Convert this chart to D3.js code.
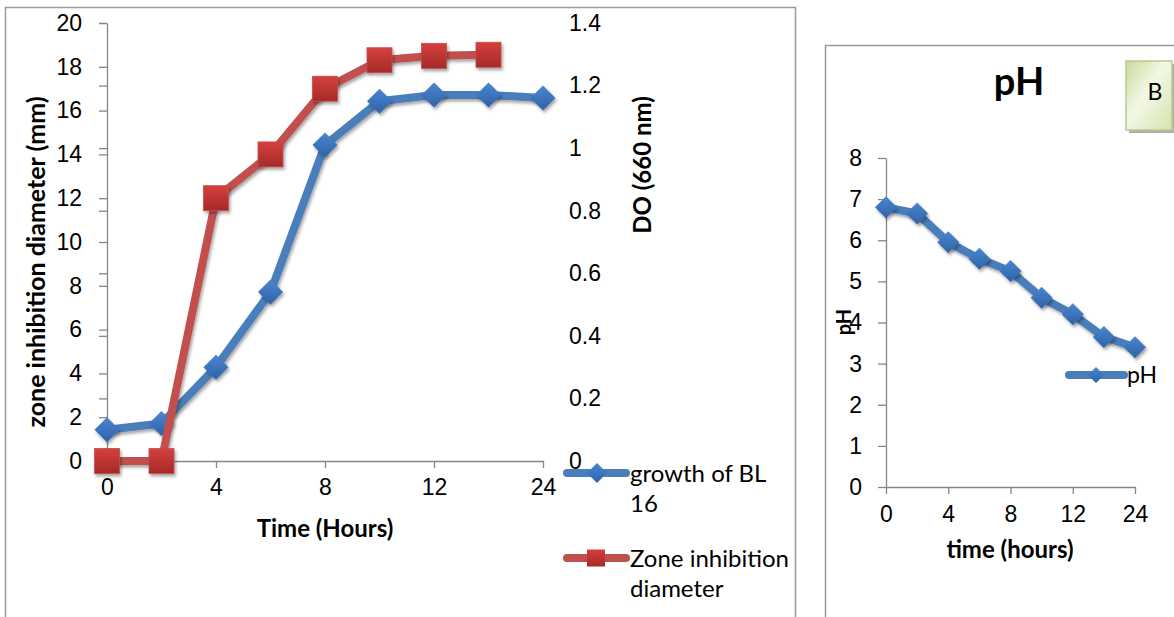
<!DOCTYPE html>
<html>
<head>
<meta charset="utf-8">
<script src="https://cdn.jsdelivr.net/npm/d3@7"></script>
<style>
  html, body { margin: 0; padding: 0; background: #fff; }
  svg { display: block; font-family: Lato, "Open Sans", sans-serif; }
  .axis path, .axis line { stroke: #868686; stroke-width: 1.3; }
  .axis text { font-size: 23px; fill: #000; }
</style>
</head>
<body>
<svg id="chart" width="1174" height="617"></svg>
<script>
// Sampling times (hours), one category per measurement
const categories = ["0", "2", "4", "6", "8", "10", "12", "18", "24"];
const timeLabels = ["0", "4", "8", "12", "24"];

// Panel A: bacterial growth (optical density) and inhibition zone
const growthDO = [0.10, 0.12, 0.30, 0.54, 1.01, 1.15, 1.17, 1.17, 1.16];
const zoneDiameter = [0, 0, 12, 14, 17, 18.3, 18.5, 18.55, null];
const zoneTicks = [0, 2, 4, 6, 8, 10, 12, 14, 16, 18, 20];
const doTicks = [0, 0.2, 0.4, 0.6, 0.8, 1, 1.2, 1.4];

// Panel B: pH of the culture
const pHValues = [6.8, 6.65, 5.95, 5.55, 5.25, 4.6, 4.2, 3.65, 3.4];
const pHTicks = [0, 1, 2, 3, 4, 5, 6, 7, 8];

const BLUE = "#4a7ebb", RED = "#c0504d";
const svg = d3.select("#chart");

// ---- shared defs: shadows and marker gradients ----
const defs = svg.append("defs");
const sh = defs.append("filter").attr("id", "shadow")
  .attr("x", "-30%").attr("y", "-30%").attr("width", "160%").attr("height", "160%");
sh.append("feDropShadow").attr("dx", 1.5).attr("dy", 2.5).attr("stdDeviation", 1.6)
  .attr("flood-color", "#000").attr("flood-opacity", 0.35);

function vGrad(id, top, bottom) {
  const g = defs.append("linearGradient").attr("id", id)
    .attr("x1", 0).attr("y1", 0).attr("x2", 0).attr("y2", 1);
  g.append("stop").attr("offset", "0%").attr("stop-color", top);
  g.append("stop").attr("offset", "100%").attr("stop-color", bottom);
}
vGrad("gRed", "#d5403d", "#a52a28");
vGrad("gBlue", "#4a86d0", "#2f62a8");
const gB = defs.append("linearGradient").attr("id", "gBox")
  .attr("x1", 0).attr("y1", 0).attr("x2", 1).attr("y2", 1);
gB.append("stop").attr("offset", "0%").attr("stop-color", "#c8da9a");
gB.append("stop").attr("offset", "45%").attr("stop-color", "#f3f8e6");
gB.append("stop").attr("offset", "100%").attr("stop-color", "#d4e3ae");

const diamond = s => `M0,${-s}L${s},0L0,${s}L${-s},0Z`;
const fmtDO = d => String(+d.toFixed(1));

// ---- panel frames ----
svg.append("rect").attr("x", 5.5).attr("y", 7.5).attr("width", 790).attr("height", 700)
  .attr("fill", "none").attr("stroke", "#9a9a9a").attr("stroke-width", 1.5);
svg.append("rect").attr("x", 825.5).attr("y", 45.5).attr("width", 400).attr("height", 700)
  .attr("fill", "none").attr("stroke", "#9a9a9a").attr("stroke-width", 1.5);

// =============== Panel A ===============
const xA = d3.scalePoint().domain(categories).range([107, 543]);
const yZone = d3.scaleLinear().domain([0, 20]).range([461, 23]);
const yDO = d3.scaleLinear().domain([0, 1.4]).range([461, 23]);

const gA = svg.append("g");

// left axis: zone diameter ticks plus the DO tick positions
gA.append("g").attr("class", "axis").attr("transform", "translate(107,0)")
  .call(d3.axisLeft(yDO).tickValues(doTicks).tickFormat("").tickSize(8).tickSizeOuter(0))
  .select(".domain").remove();
gA.append("g").attr("class", "axis").attr("transform", "translate(107,0)")
  .call(d3.axisLeft(yZone).tickValues(zoneTicks).tickSize(8).tickPadding(17).tickSizeOuter(0));

// right-hand DO labels (no axis line)
const axDO = gA.append("g").attr("class", "axis").attr("transform", "translate(569,0)")
  .call(d3.axisRight(yDO).tickValues(doTicks).tickFormat(fmtDO).tickSize(0).tickPadding(0));
axDO.select(".domain").remove();

// bottom axis
gA.append("g").attr("class", "axis").attr("transform", "translate(0,461)")
  .call(d3.axisBottom(xA).tickValues(timeLabels).tickSize(7).tickPadding(11).tickSizeOuter(0));

// axis titles
gA.append("text").attr("transform", "translate(45,262) rotate(-90)")
  .attr("text-anchor", "middle").attr("font-weight", "bold").attr("font-size", 25)
  .text("zone inhibition diameter (mm)");
gA.append("text").attr("transform", "translate(651,165) rotate(-90)")
  .attr("text-anchor", "middle").attr("font-weight", "bold").attr("font-size", 24)
  .text("DO (660 nm)");
gA.append("text").attr("x", 325).attr("y", 537)
  .attr("text-anchor", "middle").attr("font-weight", "bold").attr("font-size", 24)
  .text("Time (Hours)");

// growth series (secondary scale)
const growthPts = categories.map((c, i) => [xA(c), yDO(growthDO[i])]);
gA.append("path").attr("d", d3.line()(growthPts))
  .attr("fill", "none").attr("stroke", BLUE).attr("stroke-width", 8)
  .attr("stroke-linejoin", "round").attr("filter", "url(#shadow)");
gA.selectAll(".gm").data(growthPts).join("path")
  .attr("transform", d => `translate(${d[0]},${d[1]})`).attr("d", diamond(12.5))
  .attr("fill", "url(#gBlue)").attr("filter", "url(#shadow)");

// zone diameter series (primary scale)
const zonePts = categories.map((c, i) => zoneDiameter[i] == null ? null : [xA(c), yZone(zoneDiameter[i])])
  .filter(d => d);
gA.append("path").attr("d", d3.line()(zonePts))
  .attr("fill", "none").attr("stroke", RED).attr("stroke-width", 8)
  .attr("stroke-linejoin", "round").attr("filter", "url(#shadow)");
gA.selectAll(".zm").data(zonePts).join("rect")
  .attr("x", d => d[0] - 12.5).attr("y", d => d[1] - 12.5)
  .attr("width", 25).attr("height", 25)
  .attr("fill", "url(#gRed)").attr("stroke", "#c0504d").attr("stroke-width", 0.8)
  .attr("filter", "url(#shadow)");

// legend
const legA = gA.append("g");
legA.append("line").attr("x1", 567).attr("x2", 626).attr("y1", 473).attr("y2", 473)
  .attr("stroke", BLUE).attr("stroke-width", 8).attr("stroke-linecap", "round");
legA.append("path").attr("transform", "translate(597,473)").attr("d", diamond(10))
  .attr("fill", "url(#gBlue)");
legA.append("text").attr("x", 630).attr("y", 482).attr("font-size", 24).text("growth of BL");
legA.append("text").attr("x", 630).attr("y", 512).attr("font-size", 24).text("16");

legA.append("line").attr("x1", 567).attr("x2", 626).attr("y1", 558).attr("y2", 558)
  .attr("stroke", RED).attr("stroke-width", 8).attr("stroke-linecap", "round");
legA.append("rect").attr("x", 587).attr("y", 549.5).attr("width", 18).attr("height", 17)
  .attr("fill", "url(#gRed)");
legA.append("text").attr("x", 630).attr("y", 567).attr("font-size", 24).text("Zone inhibition");
legA.append("text").attr("x", 630).attr("y", 597).attr("font-size", 24).text("diameter");

// =============== Panel B ===============
const xB = d3.scalePoint().domain(categories).range([886, 1135]);
const yPH = d3.scaleLinear().domain([0, 8]).range([487, 158]);
const gBp = svg.append("g");

gBp.append("g").attr("class", "axis").attr("transform", "translate(886,0)")
  .call(d3.axisLeft(yPH).tickValues(pHTicks).tickSize(8).tickPadding(16).tickSizeOuter(0));
gBp.append("g").attr("class", "axis").attr("transform", "translate(0,487)")
  .call(d3.axisBottom(xB).tickValues(timeLabels).tickSize(7).tickPadding(12).tickSizeOuter(0));

gBp.append("text").attr("x", 1019).attr("y", 95).attr("text-anchor", "middle")
  .attr("font-weight", "bold").attr("font-size", 38).text("pH");
gBp.append("text").attr("x", 1010).attr("y", 558).attr("text-anchor", "middle")
  .attr("font-weight", "bold").attr("font-size", 24).text("time (hours)");
gBp.append("text").attr("transform", "translate(851,322) rotate(-90)")
  .attr("text-anchor", "middle").attr("font-weight", "bold").attr("font-size", 20).text("pH");

// "B" tag box
gBp.append("rect").attr("x", 1129).attr("y", 64).attr("width", 46).attr("height", 69).attr("fill", "#9a9a9a")
  .attr("opacity", 0.8);
gBp.append("rect").attr("x", 1126).attr("y", 61).attr("width", 46).attr("height", 69)
  .attr("fill", "url(#gBox)").attr("stroke", "#b7cb8a").attr("stroke-width", 1.5);
gBp.append("text").attr("x", 1155).attr("y", 100).attr("text-anchor", "middle")
  .attr("font-size", 23).text("B");

const pHPts = categories.map((c, i) => [xB(c), yPH(pHValues[i])]);
gBp.append("path").attr("d", d3.line()(pHPts))
  .attr("fill", "none").attr("stroke", BLUE).attr("stroke-width", 8)
  .attr("stroke-linejoin", "round").attr("filter", "url(#shadow)");
gBp.selectAll(".pm").data(pHPts).join("path")
  .attr("transform", d => `translate(${d[0]},${d[1]})`).attr("d", diamond(11))
  .attr("fill", "url(#gBlue)").attr("filter", "url(#shadow)");

const legB = gBp.append("g");
legB.append("line").attr("x1", 1069).attr("x2", 1124).attr("y1", 375).attr("y2", 375)
  .attr("stroke", BLUE).attr("stroke-width", 8).attr("stroke-linecap", "round");
legB.append("path").attr("transform", "translate(1096,375)").attr("d", diamond(8))
  .attr("fill", "url(#gBlue)");
legB.append("text").attr("x", 1127).attr("y", 383).attr("font-size", 23).text("pH");
</script>
</body>
</html>
